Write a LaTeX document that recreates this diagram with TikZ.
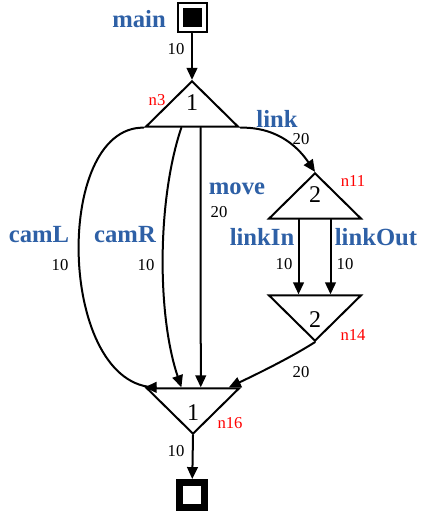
\documentclass[tikz,border=0pt]{standalone}
\usepackage{fontspec}
\setmainfont{Liberation Serif}
\usetikzlibrary{arrows.meta,shapes.geometric,calc}
\definecolor{callblue}{RGB}{46,96,166}

\begin{document}
\begin{tikzpicture}[
  line cap=round,
  line width=1.5pt,
  x=0.75pt,
  y=0.75pt,
  >={Triangle[length=9pt,width=8pt]},
  tri/.style={
    draw,
    isosceles triangle,
    isosceles triangle apex angle=90,
    isosceles triangle stretches,
    minimum width=69pt,
    minimum height=34pt,
    inner sep=0pt,
    font=\fontsize{18}{18}\selectfont,
  },
  triup/.style={tri, shape border rotate=90, text depth=8pt},
  tridown/.style={tri, shape border rotate=270, text height=20pt},
  startbox/.style={draw, fill=black, double=white, double distance=3pt, minimum size=17.25pt, inner sep=0pt, outer sep=3pt},
  endbox/.style={draw, fill=white, line width=5.5pt, minimum size=18.4pt, inner sep=0pt, outer sep=2.75pt},
  call/.style={text=callblue, font=\fontsize{18.5}{20}\selectfont\bfseries},
  weight/.style={font=\fontsize{12.5}{14}\selectfont},
  nid/.style={text=red, font=\fontsize{12.5}{14}\selectfont},
]
  \useasboundingbox (0,0) rectangle (422,-516);

  \node[startbox] (main) at (192,-18) {};
  \node[triup] (n3) at (192,-108) {1};
  \node[triup] (n11) at (315,-200) {2};
  \node[tridown] (n14) at (315,-314) {2};
  \node[tridown] (n16) at (193,-407) {1};
  \node[endbox] (exit) at (192,-495) {};

  \node[call] (lmain) at (139,-19) {main};
  \node[call] (lcamL) at (39,-235) {camL};
  \node[call] (lcamR) at (125,-235) {camR};
  \node[call] (lmove) at (237,-189) {move};
  \node[call] (llink) at (277,-119) {link};
  \node[call] (llinkIn) at (262,-237) {linkIn};
  \node[call] (llinkOut) at (376,-237) {linkOut};

  \node[weight] (wmain) at (176,-49) {10};
  \node[weight] (wcamL) at (60,-265) {10};
  \node[weight] (wcamR) at (146,-265) {10};
  \node[weight] (wmove) at (219,-212) {20};
  \node[weight] (wlink) at (301,-139) {20};
  \node[weight] (wlinkIn) at (284,-264) {10};
  \node[weight] (wlinkOut) at (345,-264) {10};
  \node[weight] (wjoin) at (301,-372) {20};
  \node[weight] (wexit) at (176,-451) {10};

  \node[nid] (id3) at (157,-100) {n3};
  \node[nid] (id11) at (353,-181) {n11};
  \node[nid] (id14) at (353,-335) {n14};
  \node[nid] (id16) at (230,-423) {n16};

  \draw[->] (main) -- (n3.apex);
  \draw[->] (n3.left corner) .. controls (52,-127) and (58,-388) .. ($(n16.right corner)+(12,0)$) -- (n16.right corner);
  \draw[->] ($(n3.left corner)!0.39!(n3.right corner)$) .. controls (157,-200) and (157,-315) .. ($(n16.right corner)!0.38!(n16.left corner)$);
  \draw[->] ($(n3.left corner)!0.59!(n3.right corner)$) -- ($(n16.right corner)!0.58!(n16.left corner)$);
  \draw[->] (n3.right corner) .. controls (280,-127) and (300,-150) .. (n11.apex);
  \draw[->] ($(n11.left corner)!0.33!(n11.right corner)$) -- ($(n14.right corner)!0.33!(n14.left corner)$);
  \draw[->] ($(n11.left corner)!0.66!(n11.right corner)$) -- ($(n14.right corner)!0.66!(n14.left corner)$);
  \draw[->] (n14.apex) .. controls (290,-358) and (255,-375) .. ($(n16.right corner)!0.87!(n16.left corner)$);
  \draw[->] (n16.apex) -- (exit);

\end{tikzpicture}
\end{document}
